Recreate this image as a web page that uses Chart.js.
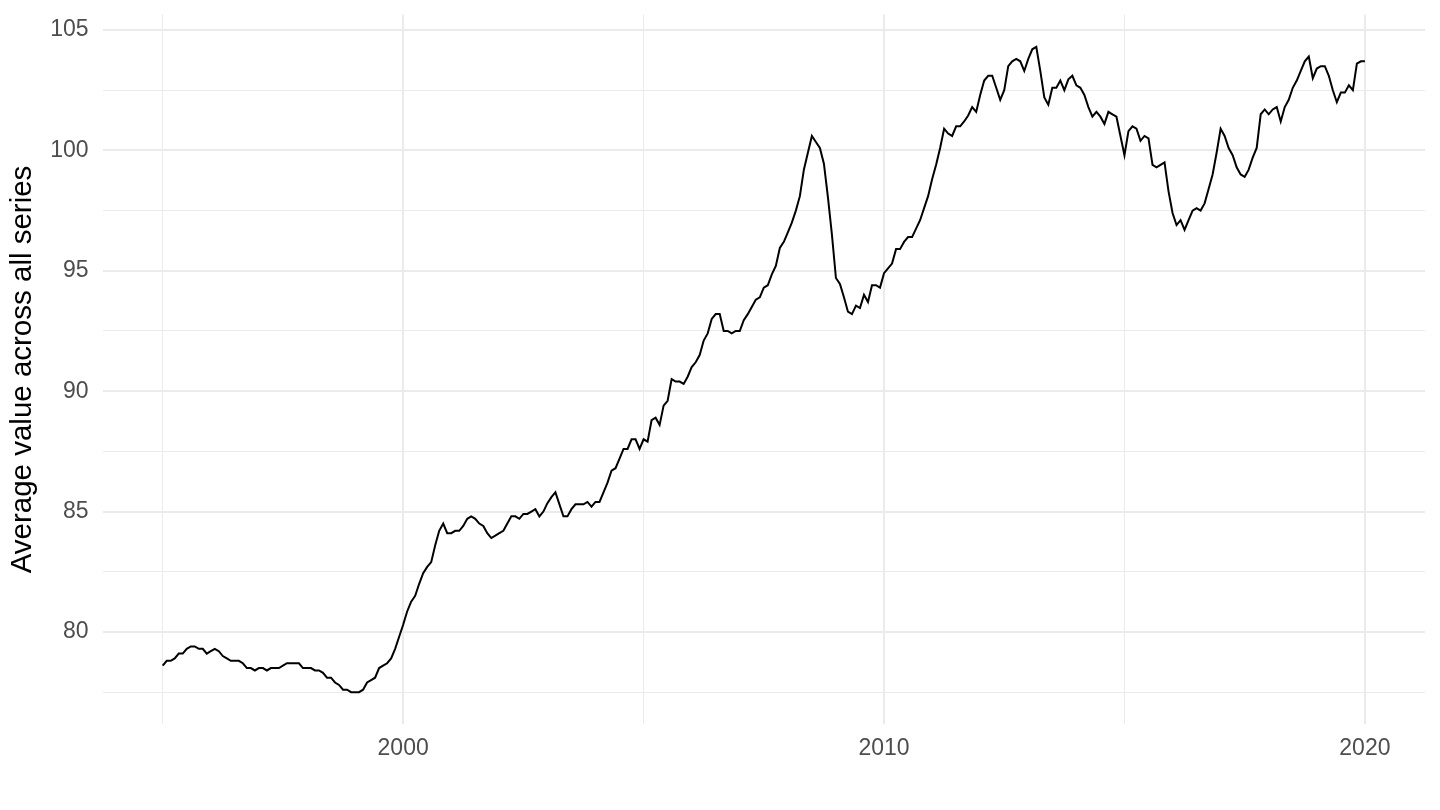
<!DOCTYPE html>
<html>
<head>
<meta charset="utf-8">
<title>Average value across all series</title>
<script src="https://cdn.jsdelivr.net/npm/chart.js@4/dist/chart.umd.min.js"></script>
<style>
  html, body { margin: 0; padding: 0; background: #ffffff; }
  #wrap { width: 1440px; height: 810px; position: relative; }
</style>
</head>
<body>
<div id="wrap"><canvas id="avgChart" width="1440" height="810"></canvas></div>
<script>
/* ===== Data: monthly averages, January 1995 to January 2020 ===== */
const startYear = 1995;

const values1995 = [78.6, 78.8, 78.8, 78.9, 79.1, 79.1, 79.3, 79.4, 79.4, 79.3, 79.3, 79.1,
                    79.2, 79.3, 79.2, 79.0, 78.9, 78.8, 78.8, 78.8, 78.7, 78.5, 78.5, 78.4,
                    78.5, 78.5, 78.4, 78.5, 78.5, 78.5, 78.6, 78.7, 78.7, 78.7, 78.7, 78.5,
                    78.5, 78.5, 78.4, 78.4, 78.3, 78.1, 78.1, 77.9, 77.8, 77.6, 77.6, 77.5,
                    77.5, 77.5, 77.6, 77.9, 78.0, 78.1, 78.5, 78.6, 78.7, 78.9, 79.3, 79.8];

const values2000 = [80.3, 80.85, 81.26, 81.5, 82.0, 82.44, 82.7, 82.9, 83.6, 84.2, 84.5, 84.1,
                    84.1, 84.2, 84.2, 84.4, 84.7, 84.8, 84.7, 84.5, 84.4, 84.1, 83.9, 84.0,
                    84.1, 84.2, 84.5, 84.8, 84.8, 84.7, 84.9, 84.9, 85.0, 85.1, 84.8, 85.0,
                    85.35, 85.6, 85.8, 85.3, 84.8, 84.8, 85.1, 85.3, 85.3, 85.3, 85.4, 85.2,
                    85.4, 85.4, 85.8, 86.2, 86.7, 86.8, 87.2, 87.6, 87.6, 88.0, 88.0, 87.6];

const values2005 = [88.0, 87.9, 88.8, 88.9, 88.6, 89.4, 89.6, 90.5, 90.4, 90.4, 90.3, 90.6,
                    91.0, 91.2, 91.5, 92.1, 92.4, 93.0, 93.2, 93.2, 92.5, 92.5, 92.4, 92.5,
                    92.5, 92.95, 93.2, 93.5, 93.8, 93.9, 94.3, 94.4, 94.85, 95.2, 95.95, 96.2,
                    96.6, 97.0, 97.5, 98.1, 99.2, 99.9, 100.6, 100.35, 100.1, 99.45, 98.06, 96.5,
                    94.7, 94.45, 93.9, 93.3, 93.2, 93.55, 93.45, 94.0, 93.7, 94.4, 94.4, 94.3];

const values2010 = [94.9, 95.1, 95.3, 95.9, 95.9, 96.2, 96.4, 96.4, 96.75, 97.1, 97.6, 98.1,
                    98.8, 99.4, 100.1, 100.9, 100.7, 100.6, 101.0, 101.0, 101.2, 101.45, 101.8, 101.6,
                    102.3, 102.9, 103.1, 103.1, 102.6, 102.1, 102.5, 103.5, 103.7, 103.8, 103.7, 103.3,
                    103.8, 104.2, 104.3, 103.3, 102.2, 101.9, 102.6, 102.6, 102.9, 102.5, 102.95, 103.1,
                    102.7, 102.6, 102.3, 101.8, 101.4, 101.6, 101.4, 101.1, 101.6, 101.5, 101.4, 100.6];

const values2015 = [99.8, 100.8, 101.0, 100.9, 100.4, 100.6, 100.5, 99.4, 99.3, 99.4, 99.5, 98.3,
                    97.4, 96.9, 97.1, 96.7, 97.1, 97.5, 97.6, 97.5, 97.8, 98.4, 99.0, 99.9,
                    100.9, 100.6, 100.1, 99.8, 99.3, 99.0, 98.9, 99.2, 99.7, 100.1, 101.5, 101.7,
                    101.5, 101.7, 101.8, 101.2, 101.8, 102.1, 102.6, 102.9, 103.3, 103.7, 103.9, 103.0,
                    103.4, 103.5, 103.5, 103.1, 102.5, 102.0, 102.4, 102.4, 102.7, 102.5, 103.6, 103.7, 103.7];

const xTickValues = [1995, 2000, 2005, 2010, 2015, 2020];
const xTickLabels = ['', '2000', '', '2010', '', '2020'];
const yTickValues = [77.5, 80, 82.5, 85, 87.5, 90, 92.5, 95, 97.5, 100, 102.5, 105];
const yTickLabels = ['', '80', '', '85', '', '90', '', '95', '', '100', '', '105'];
const yTitle = 'Average value across all series';

/* ===== Build points: one per month ===== */
const allValues = [].concat(values1995, values2000, values2005, values2010, values2015);
const points = allValues.map((v, i) => ({ x: startYear + i / 12, y: v }));

const FONT = '"Liberation Sans", Arial, Helvetica, sans-serif';
const GRID = '#EBEBEB';

function labelFor(values, labels, v) {
    const idx = values.findIndex(t => Math.abs(t - v) < 1e-6);
    return idx >= 0 ? labels[idx] : '';
}

new Chart(document.getElementById('avgChart'), {
    type: 'line',
    data: {
        datasets: [{
            data: points,
            borderColor: '#000000',
            borderWidth: 2,
            pointRadius: 0,
            tension: 0,
            fill: false
        }]
    },
    options: {
        responsive: false,
        animation: false,
        layout: { padding: { top: 14.6, right: 15, left: 0, bottom: 0 } },
        plugins: {
            legend: { display: false },
            tooltip: { enabled: false }
        },
        scales: {
            x: {
                type: 'linear',
                min: 1993.75,
                max: 2021.25,
                afterBuildTicks: s => { s.ticks = xTickValues.map(v => ({ value: v })); },
                afterFit: s => {
                    s.height = 85.6;
                    s.paddingLeft = 0;
                    s.paddingRight = 0;
                },
                border: { display: false },
                grid: {
                    color: GRID,
                    drawTicks: false,
                    lineWidth: ctx => (ctx.tick && ctx.tick.value % 10 === 0) ? 2 : 1
                },
                ticks: {
                    autoSkip: false,
                    maxRotation: 0,
                    padding: 10,
                    color: '#4D4D4D',
                    font: { family: FONT, size: 23 },
                    callback: v => labelFor(xTickValues, xTickLabels, v)
                }
            },
            y: {
                type: 'linear',
                min: 76.16,
                max: 105.64,
                afterBuildTicks: s => { s.ticks = yTickValues.map(v => ({ value: v })); },
                afterFit: s => {
                    // fixed plot box like the ggplot panel
                    s.width = 102.6;
                    s.paddingTop = 0;
                    s.paddingBottom = 0;
                },
                border: { display: false },
                grid: {
                    color: GRID,
                    drawTicks: false,
                    lineWidth: ctx => (ctx.tick && ctx.tick.value % 5 === 0) ? 2 : 1
                },
                ticks: {
                    autoSkip: false,
                    padding: 14,
                    color: '#4D4D4D',
                    font: { family: FONT, size: 23 },
                    callback: v => labelFor(yTickValues, yTickLabels, v)
                },
                title: {
                    display: true,
                    text: yTitle,
                    color: '#000000',
                    padding: { top: 5.6, bottom: 0 },
                    font: { family: FONT, size: 29.5 }
                }
            }
        }
    }
});
</script>
</body>
</html>
